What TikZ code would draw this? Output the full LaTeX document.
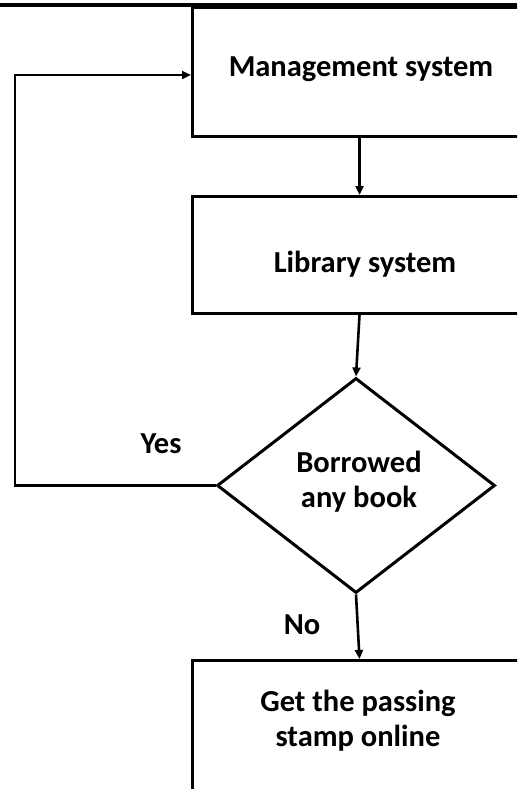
\documentclass[tikz,border=0pt]{standalone}
\usepackage{fontspec}
\setmainfont{Carlito}
\usetikzlibrary{arrows.meta,shapes.geometric}
\begin{document}
\begin{tikzpicture}[x=1pt,y=-1pt,
  box/.style={draw, rectangle, minimum width=334pt, anchor=north west, inner sep=0pt, line width=3pt},
  dia/.style={draw, diamond, minimum width=278pt, minimum height=215pt, inner sep=0pt, line width=3pt},
  lbl/.style={font=\bfseries\fontsize{30.5}{36}\selectfont, anchor=base, inner sep=0pt},
  arr/.style={-{Triangle[length=9pt,width=8pt]}, line width=2.6pt}]
\useasboundingbox (0,0) rectangle (517,789);
\clip (0,0) rectangle (517,789);
\fill[white] (0,0) rectangle (517,789);
\node[box, minimum height=129.5pt] (b1) at (191,5.7) {};
\node[box, minimum height=117pt] (b2) at (191,195) {};
\node[box, minimum height=200pt] (b3) at (191,659) {};
\node[dia] (d) at (356,485.5) {};
\draw[line width=4pt] (0,5.5) -- (517,5.5);
\node[lbl] (t1) at (361,77) {Management system};
\node[lbl] (t2) at (365,272) {Library system};
\node[lbl] (t3a) at (359,472) {Borrowed};
\node[lbl] (t3b) at (359,507) {any book};
\node[lbl] (t4a) at (358,711) {Get the passing};
\node[lbl] (t4b) at (358,746) {stamp online};
\node[lbl] (yes) at (161,453) {Yes};
\node[lbl] (no) at (302,634) {No};
\coordinate (c1) at (15,75);
\draw[arr] (b1.south) -- (b2.north);
\draw[arr] (b2.south) -- (d.north);
\draw[arr] (d.west) -| (c1) -- (b1.west |- c1);
\draw[arr] (d.south) -- (b3.north);
\end{tikzpicture}
\end{document}
